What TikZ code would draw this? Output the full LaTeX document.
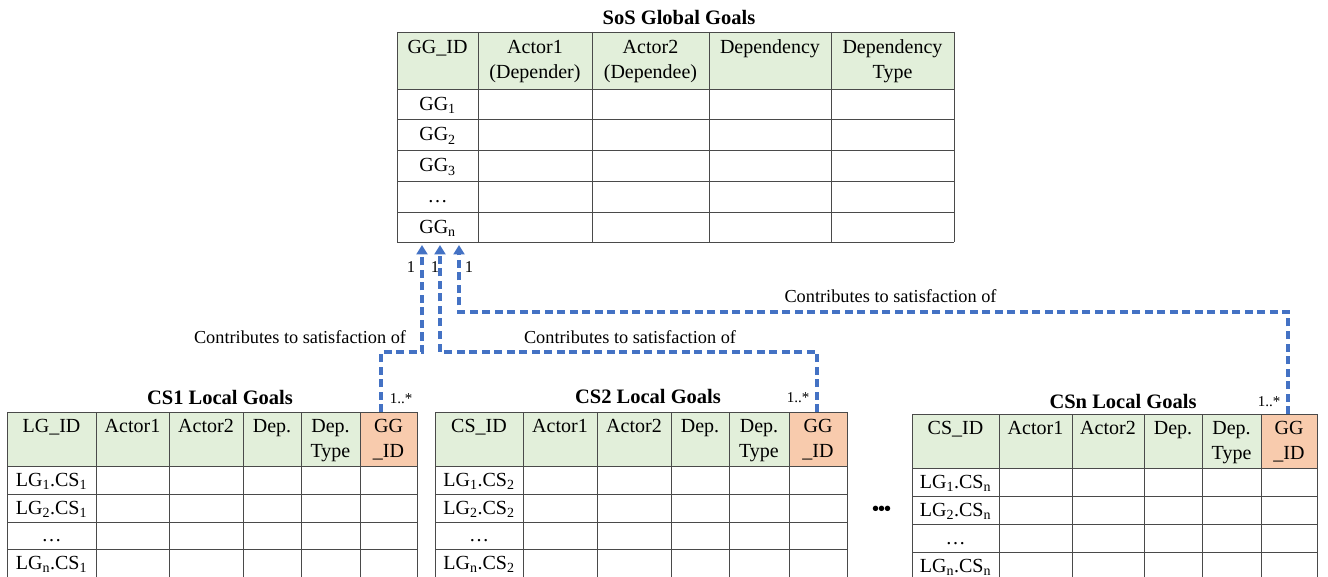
\documentclass[tikz,border=0pt]{standalone}
\usepackage{fontspec}
\setmainfont{Liberation Serif}
\usetikzlibrary{arrows.meta}
\definecolor{hdrgreen}{HTML}{E2EFDA}
\definecolor{hdrorange}{HTML}{F8CBAD}
\definecolor{linkblue}{HTML}{4472C4}
\definecolor{gridgray}{HTML}{4A4A4A}
\newcommand{\sub}[1]{\textsubscript{#1}}
\tikzset{
  grid/.style={draw=gridgray, line width=0.9pt},
  celltext/.style={font=\fontsize{20}{25}\selectfont, inner sep=0pt, anchor=base, align=center},
  title/.style={font=\fontsize{20.5}{24}\selectfont\bfseries, inner sep=0pt},
  linklabel/.style={font=\fontsize{18.3}{22}\selectfont, inner sep=0pt},
  mult/.style={font=\fontsize{15}{18}\selectfont, inner sep=0pt},
  one/.style={font=\fontsize{16.5}{18}\selectfont, inner sep=0pt},
  link/.style={draw=linkblue, line width=3.2pt, dash pattern=on 8pt off 4.5pt, -{Triangle[length=9.5pt,width=11pt]}}
}
\begin{document}
\begin{tikzpicture}[x=1pt, y=-1pt]
\useasboundingbox (0,0) rectangle (1328,577);

% ---------- SoS Global Goals ----------
% two-line cells are anchored on the baseline of their last line
\node[title] (ggtitle) at (679,17.5) {SoS Global Goals};
\fill[hdrgreen] (397,32) rectangle (954,89);
\foreach \y in {32,89,119,150,181,212,242} \draw[grid] (397,\y) -- (954,\y);
\foreach \x in {397,478,592,709,831,954} \draw[grid] (\x,32) -- (\x,242);
\node[celltext] (gh1) at (437.5,54) {GG\_ID};
\node[celltext] (gh2) at (535,79) {Actor1\\(Depender)};
\node[celltext] (gh3) at (650.5,79) {Actor2\\(Dependee)};
\node[celltext] (gh4) at (770,54) {Dependency};
\node[celltext] (gh5) at (892.5,79) {Dependency\\Type};
\node[celltext] (gr1) at (437.5,110.5) {GG\sub{1}};
\node[celltext] (gr2) at (437.5,141) {GG\sub{2}};
\node[celltext] (gr3) at (437.5,172) {GG\sub{3}};
\node[celltext] (gr4) at (437.5,203) {\dots};
\node[celltext] (gr5) at (437.5,233.5) {GG\sub{n}};

% ---------- CS1 Local Goals ----------
\node[title] (cs1title) at (220,397) {CS1 Local Goals};
\fill[hdrgreen] (7,412) rectangle (360,466);
\fill[hdrorange] (360,412) rectangle (417,466);
\foreach \y in {412,466,494,522,549} \draw[grid] (7,\y) -- (417,\y);
\foreach \x in {7,96,169,243,301,360,417} \draw[grid] (\x,412) -- (\x,577);
\node[celltext] (ah1) at (51.5,432) {LG\_ID};
\node[celltext] (ah2) at (132.5,432) {Actor1};
\node[celltext] (ah3) at (206,432) {Actor2};
\node[celltext] (ah4) at (272,432) {Dep.};
\node[celltext] (ah5) at (330.5,457) {Dep.\\Type};
\node[celltext] (ah6) at (388.5,457) {GG\\\_ID};
\node[celltext] (ar1) at (51.5,486) {LG\sub{1}.CS\sub{1}};
\node[celltext] (ar2) at (51.5,514) {LG\sub{2}.CS\sub{1}};
\node[celltext] (ar3) at (51.5,541) {\dots};
\node[celltext] (ar4) at (51.5,569) {LG\sub{n}.CS\sub{1}};

% ---------- CS2 Local Goals ----------
\node[title] (cs2title) at (648,396) {CS2 Local Goals};
\fill[hdrgreen] (435,412) rectangle (789,466);
\fill[hdrorange] (789,412) rectangle (847,466);
\foreach \y in {412,466,494,522,549} \draw[grid] (435,\y) -- (847,\y);
\foreach \x in {435,523,597,671,729,789,847} \draw[grid] (\x,412) -- (\x,577);
\node[celltext] (bh1) at (479,432) {CS\_ID};
\node[celltext] (bh2) at (560,432) {Actor1};
\node[celltext] (bh3) at (634,432) {Actor2};
\node[celltext] (bh4) at (700,432) {Dep.};
\node[celltext] (bh5) at (759,457) {Dep.\\Type};
\node[celltext] (bh6) at (818,457) {GG\\\_ID};
\node[celltext] (br1) at (479,486) {LG\sub{1}.CS\sub{2}};
\node[celltext] (br2) at (479,514) {LG\sub{2}.CS\sub{2}};
\node[celltext] (br3) at (479,541) {\dots};
\node[celltext] (br4) at (479,569) {LG\sub{n}.CS\sub{2}};

% ---------- CSn Local Goals ----------
\node[title] (csntitle) at (1123,401) {CSn Local Goals};
\fill[hdrgreen] (912,414) rectangle (1261,468);
\fill[hdrorange] (1261,414) rectangle (1317,468);
\foreach \y in {414,468,496,524,552} \draw[grid] (912,\y) -- (1317,\y);
\foreach \x in {912,999,1072,1144,1202,1261,1317} \draw[grid] (\x,414) -- (\x,577);
\node[celltext] (ch1) at (955.5,434) {CS\_ID};
\node[celltext] (ch2) at (1035.5,434) {Actor1};
\node[celltext] (ch3) at (1108,434) {Actor2};
\node[celltext] (ch4) at (1173,434) {Dep.};
\node[celltext] (ch5) at (1231.5,459) {Dep.\\Type};
\node[celltext] (ch6) at (1289,459) {GG\\\_ID};
\node[celltext] (cr1) at (955.5,488) {LG\sub{1}.CS\sub{n}};
\node[celltext] (cr2) at (955.5,516) {LG\sub{2}.CS\sub{n}};
\node[celltext] (cr3) at (955.5,544) {\dots};
\node[celltext] (cr4) at (955.5,572) {LG\sub{n}.CS\sub{n}};

% ellipsis between the local goal tables
\node[font=\fontsize{20}{24}\selectfont\bfseries, inner sep=0pt] (more) at (881.5,511) {\textbullet\kern-1pt\textbullet\kern-1pt\textbullet};

% ---------- connector ends ----------
\coordinate (gin1) at (422,245);
\coordinate (gin2) at (440,245);
\coordinate (gin3) at (459,245);
\coordinate (out1) at (381,412);
\coordinate (out2) at (817,412);
\coordinate (out3) at (1288,414);

% ---------- "contributes to" links ----------
\draw[link] (out1) -- ++(0,-60) -| (gin1);
\draw[link] (out2) -- ++(0,-60) -| (gin2);
\draw[link] (out3) -- ++(0,-102) -| (gin3);

\node[linklabel] (lab1) at (300,337) {Contributes to satisfaction of};
\node[linklabel] (lab2) at (630,337) {Contributes to satisfaction of};
\node[linklabel] (lab3) at (890.5,296) {Contributes to satisfaction of};

\node[one] (m1) at (411,267) {1};
\node[one] (m2) at (435,267) {1};
\node[one] (m3) at (469,267) {1};
\node[mult] (n1) at (401,399) {1..*};
\node[mult] (n2) at (798,398) {1..*};
\node[mult] (n3) at (1269,402) {1..*};
\end{tikzpicture}
\end{document}
